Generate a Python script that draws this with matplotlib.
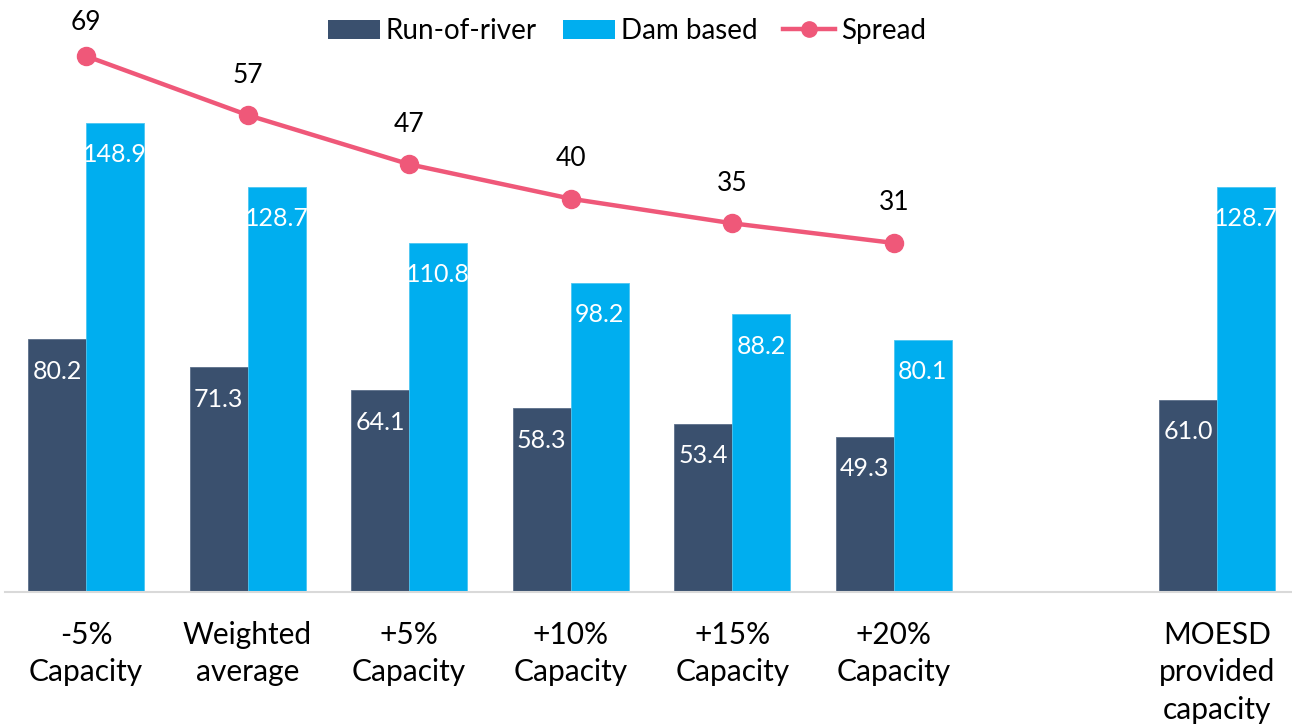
import numpy as np
import matplotlib
matplotlib.use("Agg")
import matplotlib.pyplot as plt
from matplotlib.lines import Line2D
from matplotlib.patches import Patch

plt.rcParams['font.family'] = ['Lato', 'DejaVu Sans']

# Scenario categories (an empty slot separates the MOESD case)
categories = ["-5%\nCapacity", "Weighted\naverage", "+5%\nCapacity", "+10%\nCapacity",
              "+15%\nCapacity", "+20%\nCapacity", "", "MOESD\nprovided\ncapacity"]
run_of_river = [80.2, 71.3, 64.1, 58.3, 53.4, 49.3, np.nan, 61.0]
dam_based = [148.9, 128.7, 110.8, 98.2, 88.2, 80.1, np.nan, 128.7]
spread = [69, 57, 47, 40, 35, 31]

C_DARK = "#3A506E"
C_LIGHT = "#00AEEF"
C_PINK = "#EF5879"

W, H = 1292, 726
fig = plt.figure(figsize=(W / 100, H / 100), dpi=100)

x = np.arange(len(categories))
slot = 161.57
left_px = 86 - slot / 2
ax = fig.add_axes([left_px / W, (H - 592) / H, (W - left_px) / W, 592 / H])
ax.set_xlim(-0.5, -0.5 + (W - left_px) / slot)
ax.set_ylim(0, 592 / 3.15)

bw = 58 / slot
ax.bar(x - bw / 2, run_of_river, bw, color=C_DARK, edgecolor="#5C6F8A", linewidth=0.6, zorder=2)
ax.bar(x + bw / 2, dam_based, bw, color=C_LIGHT, edgecolor="#4CC6F2", linewidth=0.6, zorder=2)

for xs, vals in ((x - bw / 2, run_of_river), (x + bw / 2, dam_based)):
    for xi, v in zip(xs, vals):
        if np.isnan(v):
            continue
        ax.annotate(f"{v:.1f}", (xi, v), xytext=(0, -32), textcoords="offset pixels",
                    ha="center", va="center", color="white", fontsize=18, zorder=4)

ax.set_xticks(x)
ax.set_xticklabels(categories, fontsize=21.5, linespacing=1.4, color="black")
ax.tick_params(axis="x", length=0, pad=21)
ax.set_yticks([])
for s in ("top", "left", "right"):
    ax.spines[s].set_visible(False)
ax.spines["bottom"].set_color("#D9D9D9")
ax.spines["bottom"].set_linewidth(1.5)

# Spread on a secondary scale
ax2 = ax.twinx()
ax2.set_ylim(-(592 - 395.5) / 4.92, 395.5 / 4.92)
ax2.set_yticks([])
for s in ax2.spines.values():
    s.set_visible(False)
ax2.plot(x[:len(spread)], spread, color=C_PINK, lw=3.2, marker="o", markersize=13,
         solid_capstyle="round", zorder=5)

fig.canvas.draw()
for xi, v in zip(x[:len(spread)], spread):
    yd = ax2.transData.transform((xi, v))[1]
    off = min(40, (H - 23) - yd)
    ax2.annotate(f"{v}", (xi, v), xytext=(0, off), textcoords="offset pixels",
                 ha="center", va="center", color="black", fontsize=19)

handles = [Patch(facecolor=C_DARK, label="Run-of-river"),
           Patch(facecolor=C_LIGHT, label="Dam based"),
           Line2D([0], [0], color=C_PINK, lw=3.2, marker="o", markersize=11, label="Spread")]
fig.legend(handles=handles, loc="center", bbox_to_anchor=(627 / W, 1 - 31 / H), ncol=3,
           frameon=False, fontsize=20, handlelength=1.87, handleheight=0.65,
           handletextpad=0.22, columnspacing=0.93)

fig.savefig("out.png", dpi=100)
